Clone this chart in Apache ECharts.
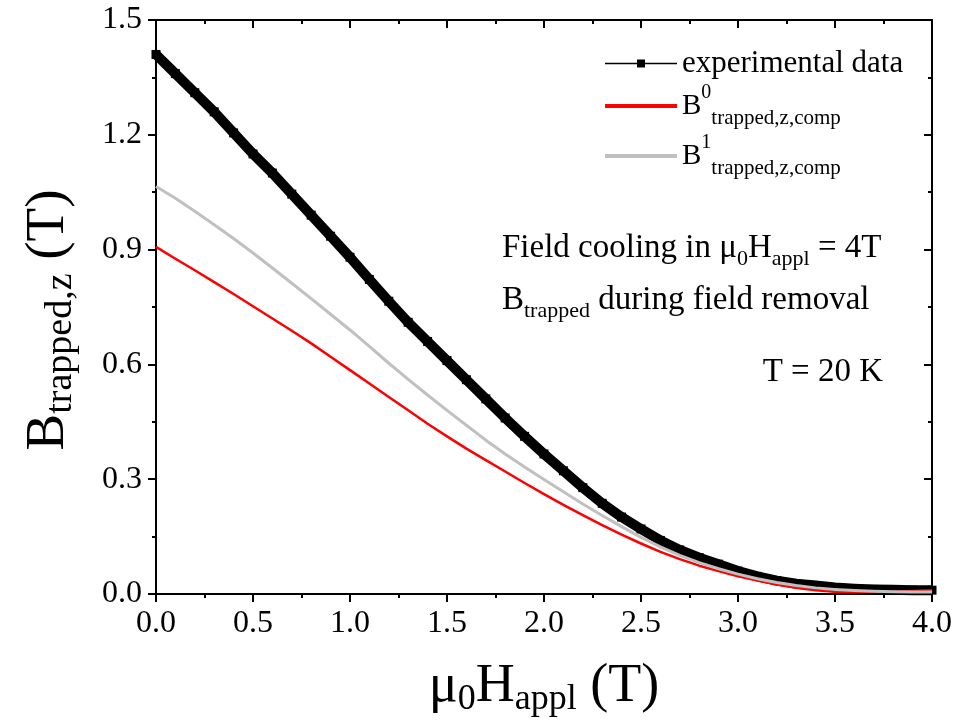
<!DOCTYPE html>
<html>
<head>
<meta charset="utf-8">
<script src="https://cdn.jsdelivr.net/npm/echarts@6/dist/echarts.min.js"></script>
<style>
  html, body { margin: 0; padding: 0; background: #fff; }
  #chart { width: 955px; height: 724px; }
</style>
</head>
<body>
<div id="chart"></div>
<script>
// applied field mu0*H_appl (T)
const fieldT = [0.0, 0.1, 0.2, 0.3, 0.4, 0.5, 0.6, 0.7, 0.8, 0.9,
  1.0, 1.1, 1.2, 1.3, 1.4, 1.5, 1.6, 1.7, 1.8, 1.9,
  2.0, 2.1, 2.2, 2.3, 2.4, 2.5, 2.6, 2.7, 2.8, 2.9,
  3.0, 3.1, 3.2, 3.3, 3.4, 3.5, 3.6, 3.7, 3.8, 3.9, 4.0];

// measured trapped field (T)
const expData = [1.41, 1.36, 1.31, 1.26, 1.205, 1.15, 1.10, 1.045, 0.99, 0.935,
  0.88, 0.822, 0.765, 0.71, 0.66, 0.61, 0.56, 0.51, 0.46, 0.412,
  0.366, 0.322, 0.278, 0.237, 0.201, 0.17, 0.14, 0.115, 0.095, 0.078,
  0.06, 0.046, 0.035, 0.027, 0.022, 0.017, 0.014, 0.012, 0.011, 0.01, 0.01];

// computed B0 trapped,z,comp (T)
const comp0 = [0.907, 0.876, 0.846, 0.815, 0.784, 0.752, 0.72, 0.688, 0.655, 0.62,
  0.585, 0.55, 0.515, 0.48, 0.445, 0.412, 0.38, 0.35, 0.32, 0.29,
  0.261, 0.233, 0.206, 0.18, 0.155, 0.132, 0.11, 0.091, 0.074, 0.06,
  0.046, 0.035, 0.025, 0.016, 0.01, 0.006, 0.005, 0.005, 0.006, 0.008, 0.01];

// computed B1 trapped,z,comp (T)
const comp1 = [1.065, 1.034, 1.0, 0.965, 0.929, 0.891, 0.852, 0.812, 0.772, 0.731,
  0.69, 0.647, 0.603, 0.561, 0.52, 0.48, 0.441, 0.402, 0.366, 0.332,
  0.299, 0.267, 0.235, 0.205, 0.176, 0.148, 0.123, 0.101, 0.082, 0.066,
  0.052, 0.04, 0.03, 0.022, 0.016, 0.012, 0.009, 0.007, 0.006, 0.005, 0.005];

const xTicks = { min: 0, max: 4, interval: 0.5 };
const yTicks = { min: 0, max: 1.5, interval: 0.3 };

const serif = '"Liberation Serif", "Times New Roman", serif';

const pairs = (ys) => fieldT.map((x, i) => [x, ys[i]]);

const legendLabels = {
  'experimental data': '{t|experimental data}',
  'B0': '{b|B}{sup|0}{sub|trapped,z,comp}',
  'B1': '{b|B}{sup|1}{sub|trapped,z,comp}'
};

const chart = echarts.init(document.getElementById('chart'));

const tickLine = { color: '#000', width: 2 };

function xAxisDef(pos) {
  const bottom = pos === 'bottom';
  return {
    type: 'value',
    position: pos,
    min: xTicks.min, max: xTicks.max, interval: xTicks.interval,
    axisLine: { show: true, onZero: false, lineStyle: tickLine },
    axisTick: { show: true, inside: !bottom, length: 8, lineStyle: tickLine },
    minorTick: { show: true, splitNumber: 2, length: 4, lineStyle: tickLine },
    splitLine: { show: false },
    axisLabel: {
      show: bottom, margin: 14, color: '#000', fontFamily: serif, fontSize: 32,
      formatter: v => v.toFixed(1)
    },
    name: bottom ? '{m|μ}{s|0}{m|H}{s|appl}{m| (T)}' : '',
    nameLocation: 'middle',
    nameGap: 62,
    nameTextStyle: {
      rich: {
        m: { fontFamily: serif, fontSize: 54, color: '#000', lineHeight: 62 },
        s: { fontFamily: serif, fontSize: 36, color: '#000', lineHeight: 36, verticalAlign: 'bottom' }
      }
    }
  };
}

function yAxisDef(pos) {
  const left = pos === 'left';
  return {
    type: 'value',
    position: pos,
    min: yTicks.min, max: yTicks.max, interval: yTicks.interval,
    axisLine: { show: true, onZero: false, lineStyle: tickLine },
    axisTick: { show: true, inside: !left, length: 8, lineStyle: tickLine },
    minorTick: { show: true, splitNumber: 2, length: 4, lineStyle: tickLine },
    splitLine: { show: false },
    axisLabel: {
      show: left, margin: 14, color: '#000', fontFamily: serif, fontSize: 32,
      formatter: v => v.toFixed(1)
    },
    name: left ? '{m|B}{s|trapped,z}{m| (T)}' : '',
    nameLocation: 'middle',
    nameRotate: 90,
    nameGap: 76,
    nameTextStyle: {
      padding: [0, 26, 0, 0],
      rich: {
        m: { fontFamily: serif, fontSize: 55, color: '#000', lineHeight: 62 },
        s: { fontFamily: serif, fontSize: 38, color: '#000', lineHeight: 38, verticalAlign: 'bottom' }
      }
    }
  };
}

const option = {
  animation: false,
  backgroundColor: '#fff',
  grid: { left: 156, right: 20, top: 20, bottom: 130 },
  xAxis: [xAxisDef('bottom'), xAxisDef('top')],
  yAxis: [yAxisDef('left'), yAxisDef('right')],
  legend: {
    orient: 'vertical',
    left: 598,
    top: 43,
    itemWidth: 72,
    itemHeight: 10,
    itemGap: 4,
    selectedMode: false,
    formatter: name => legendLabels[name],
    textStyle: {
      color: '#000',
      fontFamily: serif,
      rich: {
        t: { fontFamily: serif, fontSize: 31, color: '#000', lineHeight: 36 },
        b: { fontFamily: serif, fontSize: 29, color: '#000', lineHeight: 46 },
        sup: { fontFamily: serif, fontSize: 20, color: '#000', lineHeight: 20, verticalAlign: 'top' },
        sub: { fontFamily: serif, fontSize: 21, color: '#000', lineHeight: 21, verticalAlign: 'bottom' }
      }
    },
    data: [
      { name: 'experimental data', lineStyle: { width: 1.5, color: '#000' }, itemStyle: { color: '#000' } },
      { name: 'B0', lineStyle: { width: 4, color: '#ff0000' }, itemStyle: { opacity: 0 } },
      { name: 'B1', lineStyle: { width: 4, color: '#c0c0c0' }, itemStyle: { opacity: 0 } }
    ]
  },
  graphic: [
    {
      type: 'text', x: 502, y: 248,
      style: {
        text: '{m|Field cooling in μ}{s|0}{m|H}{s|appl}{m| = 4T}',
        align: 'left', verticalAlign: 'middle',
        rich: {
          m: { fontFamily: serif, fontSize: 33, fill: '#000', lineHeight: 44 },
          s: { fontFamily: serif, fontSize: 22, fill: '#000', lineHeight: 22, verticalAlign: 'bottom' }
        }
      }
    },
    {
      type: 'text', x: 502, y: 300,
      style: {
        text: '{m|B}{s|trapped}{m| during field removal}',
        align: 'left', verticalAlign: 'middle',
        rich: {
          m: { fontFamily: serif, fontSize: 33, fill: '#000', lineHeight: 44 },
          s: { fontFamily: serif, fontSize: 22, fill: '#000', lineHeight: 22, verticalAlign: 'bottom' }
        }
      }
    },
    {
      type: 'text', x: 883, y: 372,
      style: {
        text: 'T = 20 K', align: 'right', verticalAlign: 'middle',
        fontFamily: serif, fontSize: 33, fill: '#000'
      }
    }
  ],
  series: [
    {
      name: 'experimental data',
      type: 'line',
      data: pairs(expData),
      symbol: 'rect',
      symbolSize: 9,
      showSymbol: true,
      color: '#000',
      itemStyle: { color: '#000' },
      lineStyle: { color: '#000', width: 10, join: 'round' },
      z: 2
    },
    {
      name: 'B0',
      type: 'line',
      data: pairs(comp0),
      symbol: 'none',
      color: '#ff0000',
      lineStyle: { color: '#ff0000', width: 2.5, join: 'round' },
      z: 3
    },
    {
      name: 'B1',
      type: 'line',
      data: pairs(comp1),
      symbol: 'none',
      color: '#c0c0c0',
      lineStyle: { color: '#c0c0c0', width: 3, join: 'round' },
      z: 4
    }
  ]
};

chart.setOption(option);
</script>
</body>
</html>
